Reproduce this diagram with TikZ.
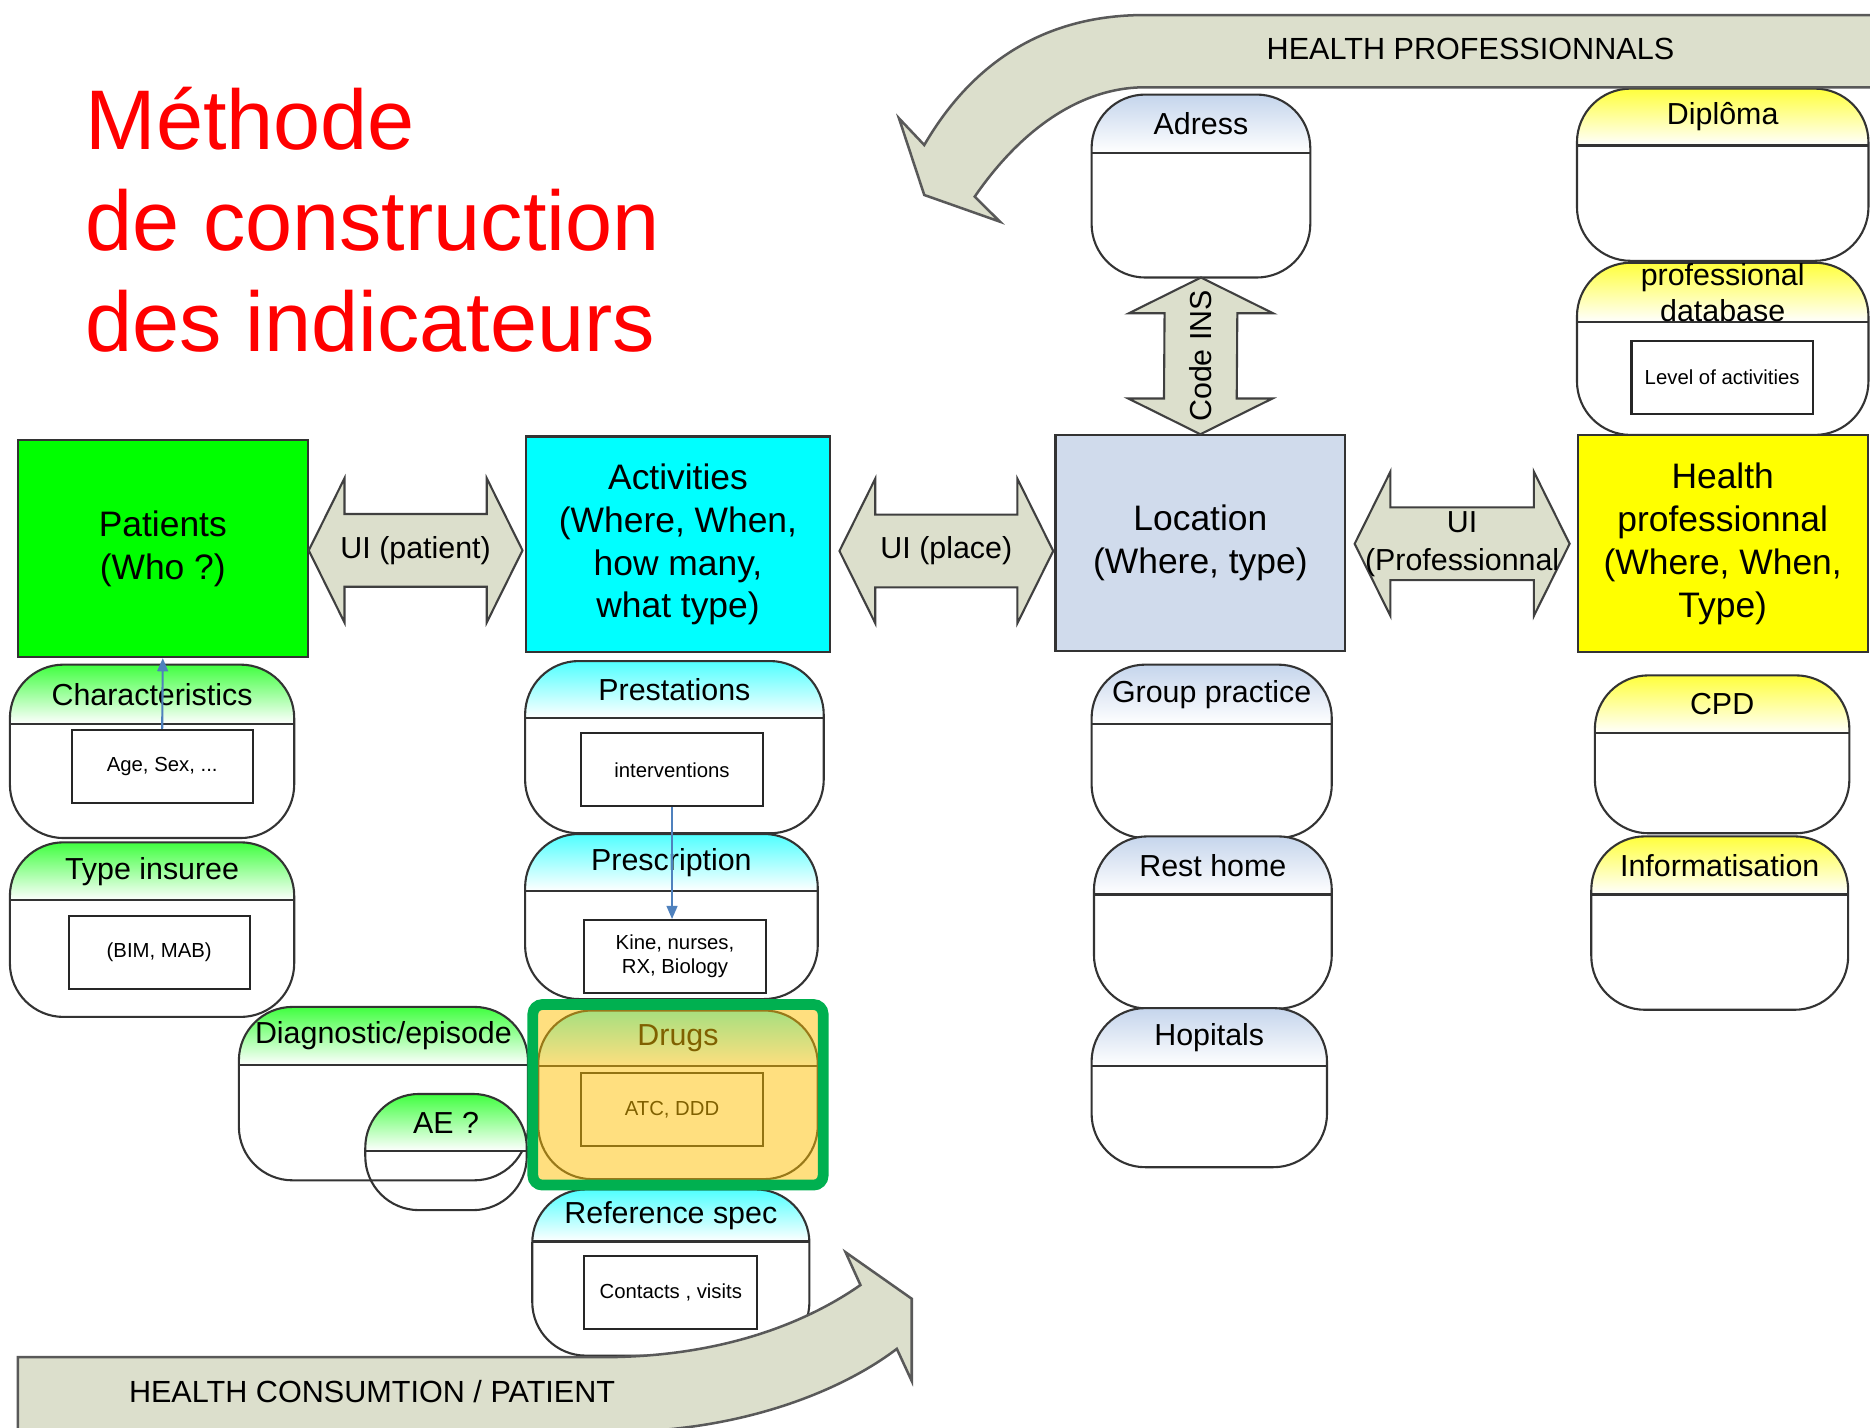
\documentclass[tikz,border=0pt]{standalone}
\usepackage{fontspec}
\setmainfont{Liberation Sans}
\usetikzlibrary{calc,fit,arrows.meta}

% couleurs
\definecolor{titlered}{RGB}{255,0,0}
\definecolor{patgreen}{RGB}{0,255,0}
\definecolor{actcyan}{RGB}{0,255,255}
\definecolor{locblue}{RGB}{208,219,236}
\definecolor{proyellow}{RGB}{255,255,0}
\definecolor{bandgrey}{RGB}{220,223,204}
\definecolor{hdgreen}{RGB}{64,255,64}
\definecolor{hdcyan}{RGB}{80,255,255}
\definecolor{hdblue}{RGB}{197,213,236}
\definecolor{hdyellow}{RGB}{255,255,60}
\definecolor{linkblue}{RGB}{79,129,189}
\definecolor{framegreen}{RGB}{0,176,80}
\definecolor{drugorange}{RGB}{255,192,0}

\tikzset{
  titletext/.style={align=left, inner sep=0pt, text=titlered,
    font={\fontsize{20.2pt}{24.2pt}\selectfont}},
  mainbox/.style={draw=black!80, line width=0.5pt, align=center, inner sep=0pt,
    font={\fontsize{8.45pt}{10.24pt}\selectfont}},
  compart/.style={rectangle, rounded corners=4.5mm, inner sep=0pt},
  compline/.style={draw=black!80, line width=0.5pt},
  comptitle/.style={align=center, inner sep=0pt,
    font={\fontsize{7.25pt}{8.6pt}\selectfont}},
  smallbox/.style={draw=black!85, line width=0.5pt, fill=white, align=center,
    inner sep=0pt, minimum width=15.2mm, minimum height=6.1mm,
    font={\fontsize{4.85pt}{5.7pt}\selectfont}},
  blockarrow/.style={draw=black!75, fill=bandgrey, line width=0.5pt},
  arrowlabel/.style={align=center, inner sep=0pt,
    font={\fontsize{7.25pt}{9.1pt}\selectfont}},
  bandshape/.style={draw=black!65, fill=bandgrey, line width=0.6pt},
  bandtext/.style={inner sep=0pt, font={\fontsize{7.3pt}{8.6pt}\selectfont}},
  linkarrow/.style={draw=linkblue, line width=0.5pt,
    -{Triangle[length=1.1mm,width=0.9mm]}},
  hilite/.style={draw=framegreen, line width=0.9mm, fill=drugorange,
    fill opacity=0.5, rounded corners=0.8mm},
}

% compartiment : [options du corps]{nom}{coins}{ligne d'en-tete}{couleur}{titre}
\newcommand{\compart}[6][fill=white]{%
  \node[compart, #1, fit={#3}] (#2) {};
  \begin{scope}
    \clip[rounded corners=4.5mm] (#2.south west) rectangle (#2.north east);
    \shade[top color=#5, bottom color=white] (#2.north west) rectangle (#2.east |- 0,#4);
  \end{scope}
  \draw[compline, rounded corners=4.5mm] (#2.south west) rectangle (#2.north east);
  \draw[compline] (#2.west |- 0,#4) -- (#2.east |- 0,#4);
  \node[comptitle] (#2-t) at ($(#2.north)!0.5!(#2.north |- 0,#4)$) {#6};
}

% double fleche : {nom}{noeud gauche}{noeud droit}{y}{ecart gauche}{ecart droit}
\newcommand{\uiarrow}[6]{%
  \path ($(#2.east |- 0,#4)+(#5,0)$) coordinate (#1-a)
        ($(#3.west |- 0,#4)-(#6,0)$) coordinate (#1-b);
  \draw[blockarrow] (#1-a) -- ++(\headlen,-\headhw) -- ++(0,\headhw-\shafthw)
    -- ($(#1-b)+(-\headlen,-\shafthw)$) -- ++(0,\shafthw-\headhw) -- (#1-b)
    -- ++(-\headlen,\headhw) -- ++(0,\shafthw-\headhw)
    -- ($(#1-a)+(\headlen,\shafthw)$) -- ++(0,\headhw-\shafthw) -- cycle;
}

\begin{document}
\begin{tikzpicture}[x=0.1mm,y=-0.1mm]

% cadre
\useasboundingbox (0,0) rectangle (1568,1197);
\fill[white] (0,0) rectangle (1568,1197);

% parametres des fleches
\pgfmathsetmacro{\headlen}{30}
\pgfmathsetmacro{\headhw}{60.5}
\pgfmathsetmacro{\shafthw}{30.5}

% titre
\node[titletext, anchor=north west] (title) at (71,72) {Méthode\\de construction\\des indicateurs};

% blocs principaux
\node[mainbox, fill=patgreen, minimum width=24.3mm, minimum height=18.2mm] (patients) at (136.5,460) {Patients\\(Who ?)};
\node[mainbox, fill=actcyan, minimum width=25.5mm, minimum height=18.1mm] (activities) at (568.5,456.5) {Activities\\(Where, When,\\how many,\\what type)};
\node[mainbox, fill=locblue, minimum width=24.3mm, minimum height=18.1mm] (location) at (1006.5,455.5) {Location\\(Where, type)};
\node[mainbox, fill=proyellow, minimum width=24.3mm, minimum height=18.2mm] (healthpro) at (1444.5,456) {Health\\professionnal\\(Where, When,\\Type)};

% colonne patients
\compart{chars}{(9,558) (246,702)}{607}{hdgreen}{Characteristics}
\compart{insuree}{(9,707) (246,852)}{755}{hdgreen}{Type insuree}
\compart{diag}{(201,845) (442,989)}{893}{hdgreen}{Diagnostic/episode}
\compart[fill=none]{ae}{(307,918) (441,1014)}{965}{hdgreen}{AE ?}

% colonne activites
\compart{prest}{(441,555) (690,698)}{602}{hdcyan}{Prestations}
\compart{prescr}{(441,700) (685,837)}{747}{hdcyan}{Prescription}
\compart{drugs}{(452,848) (685,988)}{894}{hdcyan}{Drugs}
\compart{refspec}{(447,998) (678,1136)}{1041}{hdcyan}{Reference spec}

% colonne lieux
\compart{adress}{(916,80) (1098,232)}{128}{hdblue}{Adress}
\compart{group}{(916,558) (1116,702)}{607}{hdblue}{Group practice}
\compart{rest}{(918,702) (1116,845)}{750}{hdblue}{Rest home}
\compart{hopitals}{(916,846) (1112,978)}{894}{hdblue}{Hopitals}

% colonne professionnels
\compart{diploma}{(1323,75) (1566,218)}{122}{hdyellow}{Diplôma}
\compart{profdb}{(1323,221) (1566,364)}{270}{hdyellow}{professional\\database}
\compart{cpd}{(1338,567) (1550,698)}{615}{hdyellow}{CPD}
\compart{informat}{(1335,702) (1549,846)}{750}{hdyellow}{Informatisation}

% petites boites
\node[smallbox] (agesex) at (136,642.5) {Age, Sex, ...};
\node[smallbox] (bimmab) at (133.5,798.5) {(BIM, MAB)};
\node[smallbox] (interv) at (563.5,645.5) {interventions};
\node[smallbox] (kine) at (566,802) {Kine, nurses,\\RX, Biology};
\node[smallbox] (atcddd) at (563.5,930.5) {ATC, DDD};
\node[smallbox, minimum width=14.5mm] (contacts) at (562.5,1083.5) {Contacts , visits};
\node[smallbox] (level) at (1444,316.5) {Level of activities};

% liens bleus
\draw[linkarrow] (agesex.north) -- (patients.south);
\draw[linkarrow] (interv.south) -- (interv.south |- kine.north);

% doubles fleches UI
\uiarrow{uipat}{patients}{activities}{461.5}{0}{2}
\uiarrow{uiplace}{activities}{location}{462}{7}{1}
\uiarrow{uiprof}{location}{healthpro}{456}{7}{6}
\node[arrowlabel] (uipat-t) at ($(uipat-a)!0.5!(uipat-b)$) {UI (patient)};
\node[arrowlabel] (uiplace-t) at ($(uiplace-a)!0.5!(uiplace-b)$) {UI (place)};
\node[arrowlabel] (uiprof-t) at ($(uiprof-a)!0.5!(uiprof-b)$) {UI\\(Professionnal};

% fleche verticale Code INS
\path (adress.south) coordinate (ins-a) (location.north) coordinate (ins-b);
\draw[blockarrow] (ins-a) -- ++(\headhw,\headlen) -- ++(\shafthw-\headhw,0)
  -- ($(ins-b)+(\shafthw,-\headlen)$) -- ++(\headhw-\shafthw,0) -- (ins-b)
  -- ++(-\headhw,-\headlen) -- ++(\headhw-\shafthw,0)
  -- ($(ins-a)+(-\shafthw,\headlen)$) -- ++(\shafthw-\headhw,0) -- cycle;
\node[arrowlabel, rotate=90] (ins-t) at ($(ins-a)!0.5!(ins-b)$) {Code INS};

% mise en evidence des medicaments
\node[hilite, fit=(drugs), inner xsep=0.45mm, inner ysep=0.5mm] (focus) {};

% bande du haut
\draw[bandshape] (1600,12.6) -- (960,12.6) .. controls (870,12.6) and (812,58) .. (775,121.6)
  -- (753.8,99.2) -- (775,163.5) -- (838.5,185.9) -- (817.3,164.9)
  .. controls (855,110) and (905,73.2) .. (960,73.2) -- (1600,73.2);
\node[bandtext] (hprof) at (1233,41) {HEALTH PROFESSIONNALS};

% bande du bas
\draw[bandshape] (15,1230) -- (15,1138) -- (505,1138) .. controls (600,1138) and (672,1112) .. (721.5,1077.5)
  -- (709,1050) -- (764.5,1089) -- (764.5,1158) -- (752,1131)
  .. controls (710,1163) and (640,1192) .. (555,1199) -- (555,1230);
\node[bandtext] (hcons) at (312,1167) {HEALTH CONSUMTION / PATIENT};

\end{tikzpicture}
\end{document}
